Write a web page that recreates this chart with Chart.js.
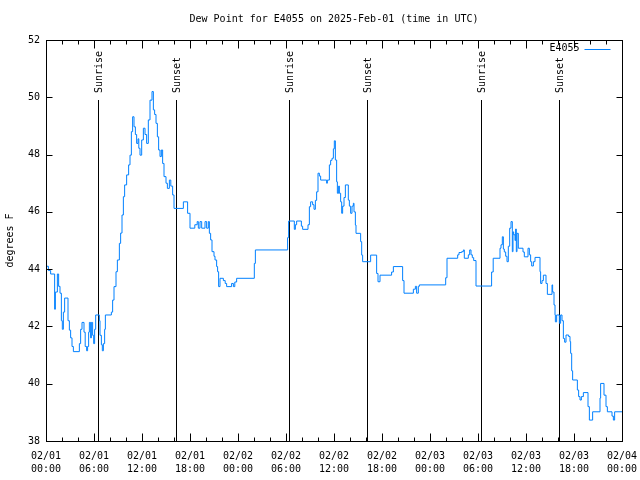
<!DOCTYPE html>
<html><head><meta charset="utf-8">
<script src="https://cdn.jsdelivr.net/npm/chart.js@4/dist/chart.umd.min.js"></script>
<style>html,body{margin:0;padding:0;background:#fff}canvas{display:block}</style>
</head><body>
<canvas id="c" width="640" height="480"></canvas>
<script>
const chartTitle = 'Dew Point for E4055 on 2025-Feb-01 (time in UTC)';
const seriesLabel = 'E4055';
const yAxisTitle = 'degrees F';
const hours = [
 0,0.3,0.58,1.08,1.17,1.42,1.58,1.75,1.92,2.04,2.17,2.33,2.75,2.92,3.08,3.25,3.42,4.17,4.33,4.5,
 4.75,4.9,5.08,5.2,5.33,5.42,5.58,5.67,5.83,5.96,6.08,6.21,6.67,6.75,6.92,7.04,7.17,7.33,7.42,8.17,
 8.33,8.5,8.75,8.92,9.17,9.33,9.5,9.67,9.83,10.08,10.33,10.5,10.67,10.83,11.0,11.17,11.33,11.5,11.6,11.75,
 11.96,12.17,12.375,12.58,12.79,13.0,13.25,13.42,13.58,13.75,13.92,14.08,14.25,14.42,14.58,14.75,15.0,15.17,15.42,15.6,
 15.83,16.0,17.17,17.7,18.0,18.6,18.9,19.04,19.25,19.46,19.875,20.08,20.29,20.42,20.58,20.75,21.0,21.125,21.33,21.45,
 21.58,21.75,22.17,22.4,22.58,23.2,23.42,23.6,23.83,26.04,26.17,30.2,30.33,31.04,31.17,31.33,31.92,32.08,32.75,32.92,
 33.08,33.33,33.5,33.67,33.83,34.0,34.17,34.33,35.08,35.17,35.42,35.58,35.75,35.92,36.04,36.17,36.33,36.42,36.58,36.67,
 36.83,36.96,37.08,37.25,37.42,37.79,37.92,38.08,38.25,38.42,38.5,38.67,38.75,39.33,39.46,39.58,40.58,41.33,41.5,41.75,
 43.2,43.42,44.58,44.75,45.92,46.17,46.33,46.54,46.67,49.96,50.125,51.46,51.625,51.96,52.17,52.29,52.79,52.96,53.125,53.29,
 53.46,53.75,55.7,55.9,56.75,56.875,57.04,57.17,57.29,57.46,57.625,57.79,57.96,58.125,58.29,58.375,58.46,58.625,58.7,58.79,
 58.875,59.04,59.625,59.79,60.25,60.42,60.58,60.71,60.92,61.125,61.75,61.83,62.0,62.17,62.5,62.67,63.25,63.33,63.5,63.625,
 63.67,63.83,64.17,64.33,64.5,64.67,64.83,65.0,65.33,65.5,65.58,65.71,65.83,66.42,66.58,66.75,66.92,67.17,67.75,67.92,
 68.33,69.25,69.33,69.75,70.0,70.17,70.75,70.92,71.08,72
];
const dewPoint = [
 44.1,43.95,43.83,42.6,43.2,43.83,43.4,43.16,42.2,41.9,42.5,42.99,42.2,41.87,41.6,41.3,41.12,41.4,41.9,42.14,
 41.8,41.3,41.15,41.3,41.8,42.14,41.6,42.14,41.69,41.4,41.9,42.4,42.2,41.69,41.36,41.15,41.4,41.9,42.4,42.5,
 42.92,43.39,43.91,44.32,44.9,45.26,45.89,46.53,46.94,47.29,47.64,47.98,48.8,49.32,48.97,48.7,48.39,48.55,48.22,47.98,
 48.51,48.92,48.7,48.39,49.21,49.9,50.2,49.56,49.4,49.09,48.62,48.16,47.93,48.16,47.69,47.23,47.0,46.82,47.11,46.9,
 46.59,46.12,46.35,45.95,45.43,45.55,45.66,45.43,45.66,45.43,45.66,45.43,45.66,45.25,45.02,44.61,44.45,44.32,44.09,43.91,
 43.39,43.68,43.6,43.5,43.39,43.5,43.39,43.55,43.68,44.2,44.67,45.1,45.68,45.39,45.55,45.68,45.5,45.39,45.55,46.18,
 46.35,46.25,46.09,46.4,46.7,47.35,47.25,47.11,47.0,47.11,47.64,47.8,47.87,48.2,48.48,47.81,47.05,46.65,46.9,46.65,
 46.35,45.95,46.2,46.5,46.94,46.41,46.2,45.95,46.2,46.3,46.0,45.54,45.25,44.96,44.49,44.26,44.49,43.85,43.56,43.79,
 43.9,44.09,43.6,43.16,43.3,43.4,43.16,43.4,43.45,43.7,44.38,44.5,44.58,44.61,44.67,44.38,44.5,44.67,44.5,44.4,
 44.3,43.41,43.9,44.38,44.73,44.85,45.13,44.7,44.6,44.45,44.26,44.8,45.43,45.66,44.61,45.3,45.2,45.0,45.4,44.61,
 45.25,44.73,44.6,44.43,44.73,44.5,44.26,44.11,44.26,44.41,43.91,43.5,43.6,43.79,43.5,43.12,43.45,43.2,42.75,42.4,
 42.16,42.4,42.11,42.4,42.2,41.58,41.45,41.7,41.65,41.47,41.06,40.45,40.13,39.78,39.55,39.43,39.55,39.69,39.2,38.73,
 39.02,39.5,40.01,39.6,39.2,39.02,38.87,38.73,39.02,39.02
];
const sunEventHours = [6.5, 16.25, 30.375, 40.17, 54.4, 64.125];
const sunEventLabels = ['Sunrise','Sunset','Sunrise','Sunset','Sunrise','Sunset'];
const xTickDates = ['02/01','02/01','02/01','02/01','02/02','02/02','02/02','02/02','02/03','02/03','02/03','02/03','02/04'];
const xTickTimes = ['00:00','06:00','12:00','18:00','00:00','06:00','12:00','18:00','00:00','06:00','12:00','18:00','00:00'];

const FONT = {family: '"DejaVu Sans Mono", "Liberation Mono", monospace', size: 10, weight: 'normal'};
const LINE_COLOR = 'rgb(0,128,255)';

const points = hours.map((h, i) => ({x: h, y: dewPoint[i]}));

const decor = {
  id: 'decor',
  beforeDatasetsDraw(chart) {
    const {ctx, chartArea: ca, scales: {x}} = chart;
    ctx.save();
    ctx.strokeStyle = '#000'; ctx.lineWidth = 1;
    const top = ca.bottom - 0.85 * (ca.bottom - ca.top);
    ctx.font = '10px ' + FONT.family;
    ctx.fillStyle = '#000';
    sunEventHours.forEach((h, i) => {
      const px = Math.round(x.getPixelForValue(h)) + 0.5;
      ctx.beginPath(); ctx.moveTo(px, ca.bottom); ctx.lineTo(px, Math.round(top)); ctx.stroke();
      ctx.save();
      ctx.translate(px + 0.5, Math.round(top) - 7);
      ctx.rotate(-Math.PI / 2);
      ctx.textAlign = 'left'; ctx.textBaseline = 'middle';
      ctx.fillText(sunEventLabels[i], 0, 0);
      ctx.restore();
    });
    // title, centred over the plot area
    ctx.textAlign = 'center'; ctx.textBaseline = 'middle';
    ctx.fillText(chartTitle, (ca.left + ca.right) / 2, 19);
    ctx.restore();
  },
  afterDraw(chart) {
    const {ctx, chartArea: ca, scales: {x, y}} = chart;
    ctx.save();
    ctx.strokeStyle = '#000'; ctx.lineWidth = 1;
    const L = Math.round(ca.left) + 0.5, R = Math.round(ca.right) + 0.5;
    const T = Math.round(ca.top) + 0.5, B = Math.round(ca.bottom) + 0.5;
    ctx.strokeRect(L, T, R - L, B - T);
    ctx.beginPath();
    for (let h = x.min; h <= x.max; h += 2) {
      const px = Math.round(x.getPixelForValue(h)) + 0.5;
      const len = (h % 6 === 0) ? 8 : 4;
      ctx.moveTo(px, B); ctx.lineTo(px, B - len);
      ctx.moveTo(px, T); ctx.lineTo(px, T + len);
    }
    for (let v = y.min; v <= y.max; v += 2) {
      const py = Math.round(y.getPixelForValue(v)) + 0.5;
      ctx.moveTo(L, py); ctx.lineTo(L + 6, py);
      ctx.moveTo(R, py); ctx.lineTo(R - 6, py);
    }
    ctx.stroke();
    // legend
    ctx.font = '10px ' + FONT.family;
    ctx.fillStyle = '#000'; ctx.textAlign = 'right'; ctx.textBaseline = 'middle';
    const ly = T + 8;
    ctx.fillText(seriesLabel, R - 43, ly);
    ctx.strokeStyle = LINE_COLOR;
    ctx.beginPath(); ctx.moveTo(R - 38, Math.round(ly) + 0.5); ctx.lineTo(R - 12, Math.round(ly) + 0.5); ctx.stroke();
    ctx.restore();
  }
};

new Chart(document.getElementById('c'), {
  type: 'line',
  data: {
    datasets: [{
      label: seriesLabel,
      data: points,
      borderColor: LINE_COLOR,
      borderWidth: 1,
      pointRadius: 0,
      stepped: 'before',
      fill: false
    }]
  },
  options: {
    responsive: false,
    devicePixelRatio: 1,
    animation: false,
    layout: {padding: {left: 0, right: 18, top: 40, bottom: 0}},
    plugins: {
      legend: {display: false},
      tooltip: {enabled: false},
      title: {display: false}
    },
    scales: {
      x: {
        type: 'linear', min: 0, max: 72,
        grid: {display: false, drawTicks: false},
        border: {display: false},
        afterFit: s => { s.height = 39; s.paddingLeft = 0; s.paddingRight = 0; },
        afterBuildTicks: s => { s.ticks = xTickDates.map((d, i) => ({value: i * 6})); },
        ticks: {
          color: '#000', font: {...FONT, lineHeight: 1.3}, padding: 9, maxRotation: 0, autoSkip: false,
          callback: (v, i) => [xTickDates[i], xTickTimes[i]]
        }
      },
      y: {
        min: 38, max: 52,
        grid: {display: false, drawTicks: false},
        border: {display: false},
        afterFit: s => { s.width = 46; s.paddingTop = 0; s.paddingBottom = 0; },
        ticks: {color: '#000', font: FONT, padding: 6, stepSize: 2},
        title: {display: true, text: yAxisTitle, color: '#000', font: FONT, padding: {top: 4, bottom: 0}}
      }
    }
  },
  plugins: [decor]
});
</script>
</body></html>
